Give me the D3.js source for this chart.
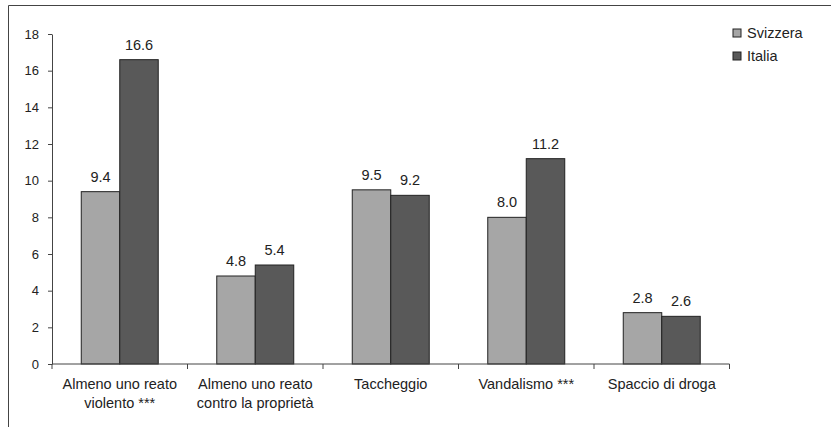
<!DOCTYPE html>
<html>
<head>
<meta charset="utf-8">
<script src="https://cdn.jsdelivr.net/npm/d3@7"></script>
<style>
  body { margin: 0; background: #fff; }
  text { font-family: "Liberation Sans", Arial, sans-serif; fill: #222; }
</style>
</head>
<body>
<svg id="chart" width="831" height="427"></svg>
<script>
// categories, two lines each
const categories = [
    ["Almeno uno reato", "violento ***"],
    ["Almeno uno reato", "contro la proprietà"],
    ["Taccheggio"],
    ["Vandalismo ***"],
    ["Spaccio di droga"]
];
const seriesNames = ["Svizzera", "Italia"];
const svizzera = [9.4, 4.8, 9.5, 8.0, 2.8];
const italia = [16.6, 5.4, 9.2, 11.2, 2.6];
const yTicks = [0, 2, 4, 6, 8, 10, 12, 14, 16, 18];
const colors = ["#a6a6a6", "#595959"];

let svg = d3.select("#chart");

// outer frame (only top and left visible)
svg.append("path")
    .attr("d", "M8.5,427 V5.5 H831")
    .style("fill", "none")
    .style("stroke", "#444")
    .style("stroke-width", 1);

let plotLeft = 52, plotRight = 729.5, plotTop = 34, plotBottom = 364;

let x = d3.scaleBand().domain(d3.range(categories.length))
    .range([plotLeft, plotRight]).paddingInner(0).paddingOuter(0);
let xs = d3.scaleBand().domain(seriesNames)
    .range([0, x.bandwidth()]).paddingInner(0).paddingOuter(0.76);
let y = d3.scaleLinear().domain([0, 18]).range([plotBottom, plotTop]);

// y axis
let yAxis = svg.append("g")
    .attr("transform", "translate(" + plotLeft + ",0)")
    .call(d3.axisLeft(y).tickValues(yTicks).tickSize(4).tickSizeOuter(0).tickPadding(9));
yAxis.select(".domain").attr("stroke", "#444");
yAxis.selectAll(".tick line").attr("stroke", "#444");
yAxis.selectAll("text").style("font-size", "13px").attr("fill", "#222")
    .style("font-family", "'Liberation Sans', Arial, sans-serif");

// bars
let groups = svg.selectAll(".cat_g").data(categories).join("g")
    .attr("class", "cat_g")
    .attr("transform", (d, i) => "translate(" + x(i) + ",0)");

let rows = categories.map((c, i) => [
    { s: seriesNames[0], v: svizzera[i] },
    { s: seriesNames[1], v: italia[i] }
]);

groups.selectAll("rect").data((d, i) => rows[i]).join("rect")
    .attr("x", d => xs(d.s))
    .attr("y", d => y(d.v))
    .attr("width", xs.bandwidth())
    .attr("height", d => plotBottom - y(d.v))
    .style("fill", (d, j) => colors[j])
    .style("stroke", "#222")
    .style("stroke-width", 1);

// value labels above bars
groups.selectAll(".vlabel").data((d, i) => rows[i]).join("text")
    .attr("class", "vlabel")
    .attr("x", d => xs(d.s) + xs.bandwidth() / 2)
    .attr("y", d => y(d.v) - 10)
    .attr("text-anchor", "middle")
    .style("font-size", "14.5px")
    .text(d => d.v.toFixed(1));

// x axis
let xAxis = svg.append("g")
    .attr("transform", "translate(0," + plotBottom + ")");
xAxis.append("line")
    .attr("x1", plotLeft).attr("x2", plotRight)
    .attr("y1", 0).attr("y2", 0)
    .style("stroke", "#444");
xAxis.selectAll(".xtick").data(d3.range(categories.length + 1)).join("line")
    .attr("class", "xtick")
    .attr("x1", i => i < categories.length ? x(i) : plotRight)
    .attr("x2", i => i < categories.length ? x(i) : plotRight)
    .attr("y1", 0).attr("y2", 5)
    .style("stroke", "#444");

groups.append("text")
    .attr("x", x.bandwidth() / 2)
    .attr("y", plotBottom + 25)
    .attr("text-anchor", "middle")
    .style("font-size", "14.5px")
    .selectAll("tspan").data(d => d).join("tspan")
    .attr("x", x.bandwidth() / 2)
    .attr("dy", (d, i) => i === 0 ? 0 : 19)
    .text(d => d);

// legend
let legend = svg.selectAll(".legend").data(seriesNames).join("g")
    .attr("class", "legend")
    .attr("transform", (d, i) => "translate(733," + (29 + i * 23) + ")");
legend.append("rect")
    .attr("width", 8).attr("height", 8)
    .style("fill", (d, i) => colors[i])
    .style("stroke", "#222");
legend.append("text")
    .attr("x", 14).attr("y", 9)
    .style("font-size", "14.5px")
    .text(d => d);
</script>
</body>
</html>
